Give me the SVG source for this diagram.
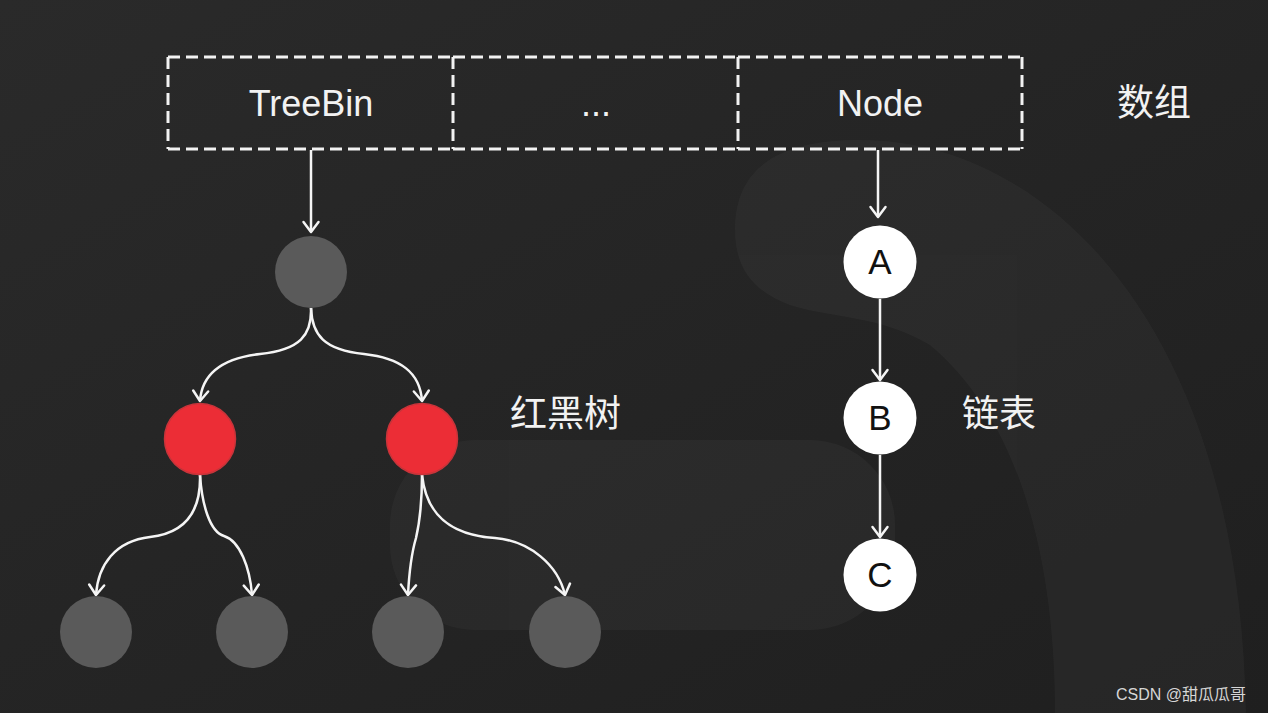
<svg xmlns="http://www.w3.org/2000/svg" width="1268" height="713" viewBox="0 0 1268 713">
<defs>
<linearGradient id="bg" x1="0" y1="0" x2="1" y2="1">
<stop offset="0" stop-color="#2a2a2a"/>
<stop offset="1" stop-color="#1f1f1f"/>
</linearGradient>
<marker id="arr" markerUnits="userSpaceOnUse" viewBox="-12 -10 14 20" markerWidth="14" markerHeight="20" refX="0" refY="0" orient="auto">
<path d="M-10,-7.5 L0,0 L-10,7.5" fill="none" stroke="#f5f5f5" stroke-width="2.5" stroke-linecap="round" stroke-linejoin="round"/>
</marker>
<style>
.cell{fill:none;stroke:#f2f2f2;stroke-width:3;stroke-dasharray:12 6}
.lbl{font-family:"Liberation Sans","Noto Sans",sans-serif;font-size:36px;fill:#f2f2f2;text-anchor:middle}
.cjk{font-family:"Noto Sans CJK SC","Liberation Sans",sans-serif;font-size:37px;fill:#f2f2f2}
.gray{fill:#5a5a5a}
.red{fill:#ec2d36;stroke:#c9343a;stroke-width:1.5}
.white{fill:#ffffff}
.letter{font-family:"Liberation Sans","Noto Sans",sans-serif;font-size:35px;fill:#111;text-anchor:middle}
.edge{fill:none;stroke:#f5f5f5;stroke-width:2.5;marker-end:url(#arr)}
</style>
</defs>
<rect width="1268" height="713" fill="url(#bg)"/>
<g id="background" fill="#ffffff" opacity="0.03">
<rect x="390" y="440" width="505" height="190" rx="85"/>
<path d="M735,230 C735,160 790,140 860,140 C1050,140 1240,330 1246,713 L1055,713 C1055,560 1020,420 930,345 C880,315 830,318 790,305 C755,292 735,270 735,230 Z"/>
</g>
<g id="connectors">
<path class="edge" d="M311,150 V232"/>
<path class="edge" d="M311,308 C312,335 300,350 260,354 C225,358 202,372 200,401"/>
<path class="edge" d="M311,308 C312,335 324,350 364,354 C400,358 420,372 422,401"/>
<path class="edge" d="M200,475 C201,510 186,533 150,537 C115,541 98,565 96,595"/>
<path class="edge" d="M200,475 C202,505 210,532 224,536 C240,541 250,568 252,595"/>
<path class="edge" d="M422,475 C422,505 419,525 416,538 C411,555 409,575 408,595"/>
<path class="edge" d="M422,475 C426,512 447,535 495,538 C530,541 558,565 565,595"/>
<path class="edge" d="M878,150 V217"/>
<path class="edge" d="M880,299 V380"/>
<path class="edge" d="M880,455 V537"/>
</g>
<g id="cell-treebin">
<path class="cell" d="M168,57 H453 M168,149 H453 M168,57 V149"/>
<text class="lbl" x="311" y="116">TreeBin</text>
</g>
<g id="cell-dots">
<path class="cell" d="M453,57 H738 M453,149 H738 M453,57 V149"/>
<text class="lbl" x="596" y="116">...</text>
</g>
<g id="cell-node">
<path class="cell" d="M738,57 H1022 M738,149 H1022 M738,57 V149 M1022,57 V149"/>
<text class="lbl" x="880" y="116">Node</text>
</g>
<g id="label-array"><text class="cjk" x="1117" y="116">数组</text></g>
<g id="tree-root"><circle class="gray" cx="311" cy="272" r="36"/></g>
<g id="tree-red-left"><circle class="red" cx="200" cy="439" r="35.5"/></g>
<g id="tree-red-right"><circle class="red" cx="422" cy="439" r="35.5"/></g>
<g id="tree-leaf-1"><circle class="gray" cx="96" cy="632" r="36"/></g>
<g id="tree-leaf-2"><circle class="gray" cx="252" cy="632" r="36"/></g>
<g id="tree-leaf-3"><circle class="gray" cx="408" cy="632" r="36"/></g>
<g id="tree-leaf-4"><circle class="gray" cx="565" cy="632" r="36"/></g>
<g id="label-rbtree"><text class="cjk" x="510" y="427" font-size="38">红黑树</text></g>
<g id="list-a"><circle class="white" cx="880" cy="262" r="36.5"/><text class="letter" x="880" y="274">A</text></g>
<g id="list-b"><circle class="white" cx="880" cy="418" r="36.5"/><text class="letter" x="880" y="430">B</text></g>
<g id="list-c"><circle class="white" cx="880" cy="575" r="36.5"/><text class="letter" x="880" y="587">C</text></g>
<g id="label-list"><text class="cjk" x="962" y="427">链表</text></g>
<text x="1116" y="700" font-family="'Liberation Sans','Noto Sans CJK SC',sans-serif" font-size="16" fill="#d6d6d6">CSDN @甜瓜瓜哥</text>
</svg>
